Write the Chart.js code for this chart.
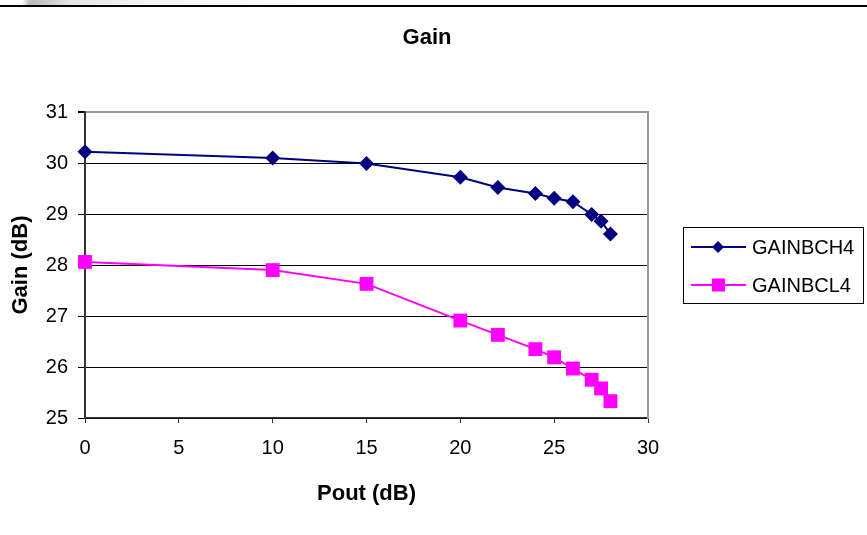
<!DOCTYPE html>
<html>
<head>
<meta charset="utf-8">
<script src="https://cdn.jsdelivr.net/npm/chart.js@4.4.1/dist/chart.umd.min.js"></script>
<style>
  html, body { margin: 0; padding: 0; background: #fff; }
  #wrap { position: relative; width: 867px; height: 535px; }
  #topband { position: absolute; left: 0; top: 0; width: 867px; height: 5px;
    background: linear-gradient(100deg, #fff 0px, #fff 22px, #b8b8b8 30px, #e6e6e6 70px, #f4f4f4 140px, #fff 300px); }
  #topline { position: absolute; left: 0; top: 5px; width: 867px; height: 2px; background: #000; }
  canvas { position: absolute; left: 0; top: 0; }
</style>
</head>
<body>
<div id="wrap">
  <canvas id="gainChart" width="867" height="535"></canvas>
  <div id="topband"></div>
  <div id="topline"></div>
</div>
<script>
const poutValues = [0, 10, 15, 20, 22, 24, 25, 26, 27, 27.5, 28];
const gainBCH4 = [30.22, 30.10, 29.99, 29.72, 29.52, 29.40, 29.31, 29.24, 28.99, 28.86, 28.61];
const gainBCL4 = [28.06, 27.90, 27.63, 26.91, 26.63, 26.35, 26.19, 25.97, 25.75, 25.58, 25.33];
const seriesNames = ['GAINBCH4', 'GAINBCL4'];

const FONT = 'Arial, "Liberation Sans", sans-serif';

// boxed legend on the right, line + marker like the spreadsheet version
const boxLegend = {
  id: 'boxLegend',
  afterDraw(chart) {
    const { ctx, chartArea } = chart;
    const x0 = chartArea.right + 35, w = 180, h = 76;
    const y0 = (chartArea.top + chartArea.bottom) / 2 - h / 2;
    ctx.save();
    ctx.strokeStyle = '#000';
    ctx.lineWidth = 1;
    ctx.strokeRect(x0 + 0.5, y0 + 0.5, w, h);
    ctx.font = '20px ' + FONT;
    ctx.textBaseline = 'middle';
    chart.data.datasets.forEach((ds, i) => {
      const y = y0 + 20 + i * 38;
      ctx.strokeStyle = ds.borderColor;
      ctx.lineWidth = 2;
      ctx.beginPath();
      ctx.moveTo(x0 + 8, y);
      ctx.lineTo(x0 + 63, y);
      ctx.stroke();
      ctx.fillStyle = ds.pointBackgroundColor;
      ctx.beginPath();
      if (ds.pointStyle === 'rectRot') {
        ctx.moveTo(x0 + 35, y - 6);
        ctx.lineTo(x0 + 41, y);
        ctx.lineTo(x0 + 35, y + 6);
        ctx.lineTo(x0 + 29, y);
      } else {
        ctx.rect(x0 + 29, y - 6.5, 13, 13);
      }
      ctx.fill();
      ctx.fillStyle = '#000';
      ctx.fillText(ds.label, x0 + 69, y + 1);
    });
    ctx.restore();
  }
};

const ctx = document.getElementById('gainChart').getContext('2d');
new Chart(ctx, {
  type: 'line',
  data: {
    datasets: [
      {
        label: seriesNames[0],
        data: poutValues.map((x, i) => ({ x, y: gainBCH4[i] })),
        borderColor: '#000080', backgroundColor: '#000080',
        pointBackgroundColor: '#000080', pointBorderColor: '#000080',
        pointStyle: 'rectRot', pointRadius: 7.5, pointBorderWidth: 0,
        borderWidth: 2, tension: 0, fill: false, clip: false,
      },
      {
        label: seriesNames[1],
        data: poutValues.map((x, i) => ({ x, y: gainBCL4[i] })),
        borderColor: '#ff00ff', backgroundColor: '#ff00ff',
        pointBackgroundColor: '#ff00ff', pointBorderColor: '#ff00ff',
        pointStyle: 'rect', pointRadius: 9.8, pointBorderWidth: 0,
        borderWidth: 2, tension: 0, fill: false, clip: false,
      },
    ],
  },
  options: {
    responsive: false,
    animation: false,
    layout: { padding: { left: 0, right: 13, top: 0, bottom: 0 } },
    plugins: {
      legend: { display: false },
      tooltip: { enabled: false },
      title: {
        display: true, text: 'Gain', color: '#000',
        font: { family: FONT, size: 22, weight: 'bold' },
        padding: { top: 25, bottom: 60.6 },
      },
    },
    scales: {
      x: {
        type: 'linear', min: 0, max: 30,
        ticks: { stepSize: 5, color: '#000', font: { family: FONT, size: 20 }, padding: 13, maxRotation: 0 },
        grid: { drawOnChartArea: false, drawTicks: true, tickLength: 5, tickColor: '#333' },
        border: { color: '#333', width: 1.5 },
        title: { display: true, text: 'Pout (dB)', color: '#000', font: { family: FONT, size: 22, weight: 'bold' }, padding: { top: 0, bottom: 28 } },
        afterFit: s => { s.height = 117; },
      },
      y: {
        min: 25, max: 31,
        ticks: { stepSize: 1, color: '#000', font: { family: FONT, size: 20 }, padding: 10 },
        grid: {
          color: c => (c.tick && c.tick.value === 31 ? '#999' : '#000'),
          lineWidth: c => (c.tick && c.tick.value === 31 ? 2 : 1),
          tickLength: 7, tickColor: '#000',
        },
        border: { color: '#333', width: 2 },
        title: { display: true, text: 'Gain (dB)', color: '#000', font: { family: FONT, size: 22, weight: 'bold' }, padding: { top: 8, bottom: 0 } },
        afterFit: s => { s.width = 85; },
      },
      y2: {
        position: 'right', min: 25, max: 31,
        ticks: { display: false },
        grid: { drawOnChartArea: false, drawTicks: false },
        border: { color: '#999', width: 2 },
        afterFit: s => { s.width = 206; },
      },
    },
  },
  plugins: [boxLegend],
});
</script>
</body>
</html>
